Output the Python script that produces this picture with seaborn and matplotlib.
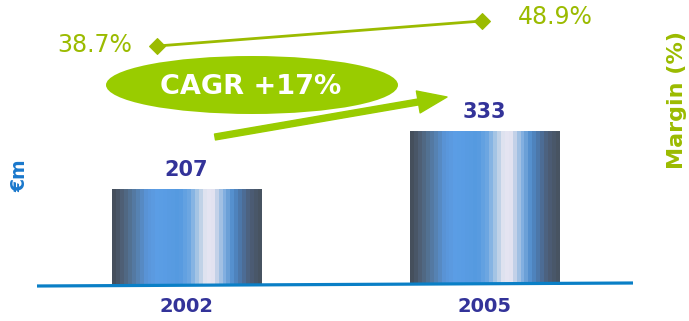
import numpy as np
import pandas as pd
import matplotlib
matplotlib.use("Agg")
import matplotlib.pyplot as plt
import seaborn as sns
from matplotlib.patches import Ellipse, FancyArrowPatch, ArrowStyle
from matplotlib.colors import LinearSegmentedColormap

# Data
years = ["2002", "2005"]
revenue = [207, 333]
margin = [38.7, 48.9]
margin_labels = ["38.7%", "48.9%"]
cagr_label = "CAGR +17%"

sns.set_theme(style="white")
plt.rcParams["font.family"] = ["DejaVu Sans"]

BLUE_TXT = "#333399"
GREEN_TXT = "#9BBB00"
GREEN_FILL = "#99CC00"

W, H = 689, 321
fig = plt.figure(figsize=(W / 100, H / 100), dpi=100)


def fx(px):
    return px / W


def fy(py):
    return 1 - py / H


# Bars
ax = fig.add_axes([0, 36 / H, 1, 285 / H])
ax.patch.set_alpha(0)
df = pd.DataFrame({"year": years, "revenue": revenue})
sns.barplot(data=df, x="year", y="revenue", width=0.5, color="#5A9BE0",
            saturation=1, ax=ax, zorder=2)

# cylinder-like horizontal shading
stops = [
    (0.00, "#454F5C"), (0.05, "#4E5F75"), (0.10, "#52708F"), (0.16, "#5682B2"),
    (0.22, "#5A95D8"), (0.30, "#5C9EE6"), (0.45, "#559AE0"), (0.52, "#6FA8E2"),
    (0.56, "#9CC0E4"), (0.60, "#C4D4E8"), (0.63, "#E6E6F2"), (0.68, "#E2E2F0"),
    (0.71, "#B8CCE6"), (0.76, "#7FAEE0"), (0.82, "#4F8CCC"), (0.88, "#4C72A0"),
    (0.93, "#4D5F7A"), (1.00, "#475361"),
]
cyl = LinearSegmentedColormap.from_list("cyl", stops)
shade = np.linspace(0, 1, 38)[None, :]

for patch, v in zip(ax.patches, revenue):
    x0, w, h = patch.get_x(), patch.get_width(), patch.get_height()
    ax.imshow(shade, cmap=cyl, extent=[x0, x0 + w, 0, h], aspect="auto",
              interpolation="nearest", zorder=2)
    patch.set_facecolor("none")
    patch.set_edgecolor("none")
    ax.annotate(str(v), (x0 + w / 2, h), xytext=(0, 7), textcoords="offset points",
                ha="center", va="bottom", fontsize=15, fontweight="bold",
                color=BLUE_TXT)

ax.set_xlim(-0.626, 1.686)
ax.set_ylim(0, 620)
ax.set_xlabel("")
ax.set_ylabel("")
ax.set_yticks([])
ax.tick_params(axis="x", length=0, pad=9, labelsize=14, labelcolor=BLUE_TXT)
for lab in ax.get_xticklabels():
    lab.set_fontweight("bold")
for s in ax.spines.values():
    s.set_visible(False)

# baseline
ax.plot([37 / W, 633 / W], [-1 / 285, 2 / 285], transform=ax.transAxes,
        color="#0A7FC6", lw=2.3, clip_on=False, zorder=5, solid_capstyle="butt")

# Margin line
ax2 = fig.add_axes([0, 36 / H, 1, 285 / H])
ax2.patch.set_alpha(0)
sns.lineplot(x=[0, 1], y=margin, ax=ax2, color=GREEN_TXT, linewidth=2,
             marker="D", markersize=8, markeredgecolor=GREEN_TXT)
ax2.set_xlim(-0.4831, 1.6369)
ax2.set_ylim(-58.8, 57.47)
ax2.axis("off")
ax2.annotate(margin_labels[0], (0, margin[0]), xytext=(-18, 1), textcoords="offset points",
             ha="right", va="center", fontsize=17, color=GREEN_TXT)
ax2.annotate(margin_labels[1], (1, margin[1]), xytext=(26, 3), textcoords="offset points",
             ha="left", va="center", fontsize=17, color=GREEN_TXT)

# CAGR badge and arrow
fig.add_artist(Ellipse((fx(252), fy(85)), 292 / W, 58 / H, transform=fig.transFigure,
                       facecolor=GREEN_FILL, edgecolor="none", zorder=6))
fig.text(fx(251), fy(87), cagr_label, ha="center", va="center", color="white",
         fontsize=19.5, fontweight="bold", zorder=7)
fig.add_artist(FancyArrowPatch((fx(215), fy(137)), (fx(447), fy(97)),
                               transform=fig.transFigure,
                               arrowstyle=ArrowStyle.Simple(head_length=21, head_width=16,
                                                            tail_width=4.3),
                               mutation_scale=1, color=GREEN_FILL, shrinkA=0, shrinkB=0,
                               zorder=6))

# Axis titles
fig.text(fx(20), fy(176), "€m", rotation=90, ha="center", va="center",
         fontsize=13.5, fontweight="bold", color="#1A78CC")
fig.text(fx(677), fy(100), "Margin (%)", rotation=90, ha="center", va="center",
         fontsize=16, fontweight="bold", color=GREEN_TXT)

fig.savefig("out.png", dpi=100)
